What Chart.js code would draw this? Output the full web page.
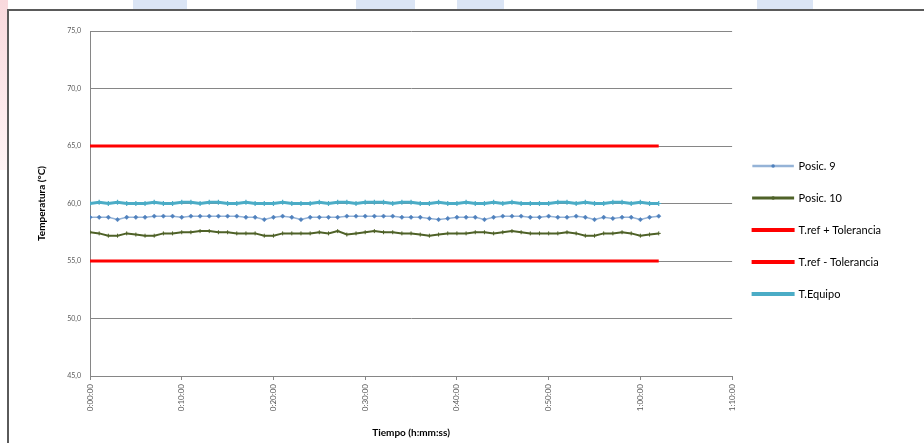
<!DOCTYPE html>
<html>
<head>
<meta charset="utf-8">
<script src="https://cdn.jsdelivr.net/npm/chart.js@4/dist/chart.umd.min.js"></script>
<style>
  html, body { margin: 0; padding: 0; background: #fff; }
  body { width: 924px; height: 443px; position: relative; overflow: hidden; }
  .marca { position: absolute; top: 0; height: 10px; background: #dbe5f5; }
  .marca-roja { position: absolute; left: 0; top: 0; width: 8px; height: 170px;
    background: linear-gradient(#f9d9dd, #fff3f4); }
  #marco { position: absolute; left: 7px; top: 9px; width: 930px; height: 450px;
    border: 2px solid #5a5a5a; background: #fff; }
  #grafico { position: absolute; left: 0; top: 0; }
</style>
</head>
<body>
<div class="marca-roja"></div>
<div class="marca" style="left:133px;width:54px"></div>
<div class="marca" style="left:356px;width:59px"></div>
<div class="marca" style="left:457px;width:47px"></div>
<div class="marca" style="left:757px;width:56px"></div>
<div id="marco"></div>
<canvas id="grafico" width="924" height="443"></canvas>
<script>
// minutos desde el inicio (una lectura por minuto)
const minutos = Array.from({ length: 63 }, (_, i) => i);

// temperaturas registradas (°C)
const posic9 = [
  58.8, 58.8, 58.8, 58.6, 58.8, 58.8, 58.8, 58.9, 58.9, 58.9,
  58.8, 58.9, 58.9, 58.9, 58.9, 58.9, 58.9, 58.8, 58.8, 58.6,
  58.8, 58.9, 58.8, 58.6, 58.8, 58.8, 58.8, 58.8, 58.9, 58.9,
  58.9, 58.9, 58.9, 58.9, 58.8, 58.8, 58.8, 58.7, 58.6, 58.7,
  58.8, 58.8, 58.8, 58.6, 58.8, 58.9, 58.9, 58.9, 58.8, 58.8,
  58.9, 58.8, 58.8, 58.9, 58.8, 58.6, 58.8, 58.7, 58.8, 58.8,
  58.6, 58.8, 58.9
];
const posic10 = [
  57.5, 57.4, 57.2, 57.2, 57.4, 57.3, 57.2, 57.2, 57.4, 57.4,
  57.5, 57.5, 57.6, 57.6, 57.5, 57.5, 57.4, 57.4, 57.4, 57.2,
  57.2, 57.4, 57.4, 57.4, 57.4, 57.5, 57.4, 57.6, 57.3, 57.4,
  57.5, 57.6, 57.5, 57.5, 57.4, 57.4, 57.3, 57.2, 57.3, 57.4,
  57.4, 57.4, 57.5, 57.5, 57.4, 57.5, 57.6, 57.5, 57.4, 57.4,
  57.4, 57.4, 57.5, 57.4, 57.2, 57.2, 57.4, 57.4, 57.5, 57.4,
  57.2, 57.3, 57.4
];
const tEquipo = [
  60.0, 60.1, 60.0, 60.1, 60.0, 60.0, 60.0, 60.1, 60.0, 60.0,
  60.1, 60.1, 60.0, 60.1, 60.1, 60.0, 60.0, 60.1, 60.0, 60.0,
  60.0, 60.1, 60.0, 60.0, 60.0, 60.1, 60.0, 60.1, 60.1, 60.0,
  60.1, 60.1, 60.1, 60.0, 60.1, 60.1, 60.0, 60.0, 60.1, 60.0,
  60.0, 60.1, 60.0, 60.0, 60.1, 60.0, 60.1, 60.0, 60.0, 60.0,
  60.0, 60.1, 60.1, 60.0, 60.1, 60.0, 60.0, 60.1, 60.1, 60.0,
  60.1, 60.0, 60.0
];

// temperatura de referencia y tolerancia
const tRef = 60.0;
const tolerancia = 5.0;

// escala del eje Y
const yMin = 45, yMax = 75, yPaso = 5;
// escala del eje X (minutos)
const xMin = 0, xMax = 70, xPaso = 10;

const fuente = "Lato, 'Open Sans', sans-serif";

function formatoTiempo(v) {
  const h = Math.floor(v / 60);
  const m = v % 60;
  return h + ':' + String(m).padStart(2, '0') + ':00';
}

// baja la leyenda unos píxeles respecto al centro
const moverLeyenda = {
  id: 'moverLeyenda',
  afterLayout(chart) {
    chart.legend.top -= 5;
    chart.legend.bottom -= 5;
  }
};

// marcador en medio de la línea de cada entrada de la leyenda
const marcasLeyenda = {
  id: 'marcasLeyenda',
  afterDraw(chart) {
    const ctx = chart.ctx;
    const leyenda = chart.legend;
    leyenda.legendItems.forEach((item, i) => {
      const ds = chart.data.datasets[item.datasetIndex];
      if (!ds.pointRadius) return;
      const hb = leyenda.legendHitBoxes[i];
      const x = hb.left + leyenda.options.labels.boxWidth / 2;
      const y = hb.top + hb.height / 2;
      ctx.save();
      ctx.fillStyle = ds.pointBorderColor;
      ctx.beginPath();
      ctx.arc(x, y, 1.8, 0, Math.PI * 2);
      ctx.fill();
      ctx.restore();
    });
  }
};

const grafico = new Chart(document.getElementById('grafico'), {
  type: 'line',
  data: {
    labels: minutos,
    datasets: [
      {
        label: 'Posic. 9',
        data: posic9,
        borderColor: '#95b3d7',
        borderWidth: 1.5,
        pointStyle: 'rectRot',
        pointRadius: 2.2,
        pointBackgroundColor: '#4f81bd',
        pointBorderColor: '#4f81bd',
        pointBorderWidth: 0.5
      },
      {
        label: 'Posic. 10',
        data: posic10,
        borderColor: '#4f6228',
        borderWidth: 2,
        pointStyle: 'cross',
        pointRadius: 2,
        pointBorderColor: '#4f6228',
        pointBorderWidth: 1
      },
      {
        label: 'T.ref + Tolerancia',
        data: minutos.map(() => tRef + tolerancia),
        borderColor: '#ff0000',
        borderWidth: 3,
        pointRadius: 0
      },
      {
        label: 'T.ref - Tolerancia',
        data: minutos.map(() => tRef - tolerancia),
        borderColor: '#ff0000',
        borderWidth: 3,
        pointRadius: 0
      },
      {
        label: 'T.Equipo',
        data: tEquipo,
        borderColor: '#4bacc6',
        borderWidth: 3,
        pointStyle: 'cross',
        pointRadius: 2.5,
        pointBorderColor: '#4bacc6',
        pointBorderWidth: 1.2
      }
    ]
  },
  plugins: [moverLeyenda, marcasLeyenda],
  options: {
    responsive: false,
    animation: false,
    layout: { padding: { left: 36, top: 31, right: 33, bottom: 4 } },
    plugins: {
      tooltip: { enabled: false },
      legend: {
        position: 'right',
        labels: {
          boxWidth: 40,
          boxHeight: 1,
          padding: 21,
          color: '#404040',
          font: { family: fuente, size: 11 },
          generateLabels(chart) {
            return chart.data.datasets.map((ds, i) => ({
              text: ds.label,
              fillStyle: ds.borderColor,
              strokeStyle: ds.borderColor,
              lineWidth: ds.borderWidth,
              datasetIndex: i
            }));
          }
        }
      }
    },
    scales: {
      x: {
        type: 'linear',
        min: xMin,
        max: xMax,
        afterFit(scale) { scale.height = 63; },
        ticks: {
          stepSize: xPaso,
          minRotation: 90,
          maxRotation: 90,
          color: '#595959',
          font: { family: fuente, size: 8 },
          padding: 4,
          callback: (v) => formatoTiempo(v)
        },
        grid: { drawOnChartArea: false, color: '#868686', tickLength: 4 },
        border: { color: '#868686' },
        title: {
          display: true,
          text: 'Tiempo (h:mm:ss)',
          color: '#000',
          font: { family: fuente, size: 10, weight: 'bold' },
          padding: { top: 2, bottom: 0 }
        }
      },
      y: {
        min: yMin,
        max: yMax,
        afterFit(scale) { scale.width = 54; },
        ticks: {
          stepSize: yPaso,
          color: '#595959',
          font: { family: fuente, size: 7 },
          padding: 9,
          callback: (v) => v.toFixed(1).replace('.', ',')
        },
        grid: { color: '#868686', drawTicks: false },
        border: { color: '#868686' },
        title: {
          display: true,
          text: 'Temperatura (°C)',
          color: '#000',
          font: { family: fuente, size: 10, weight: 'bold' },
          padding: { top: 0, bottom: 4 }
        }
      }
    }
  }
});
</script>
</body>
</html>
